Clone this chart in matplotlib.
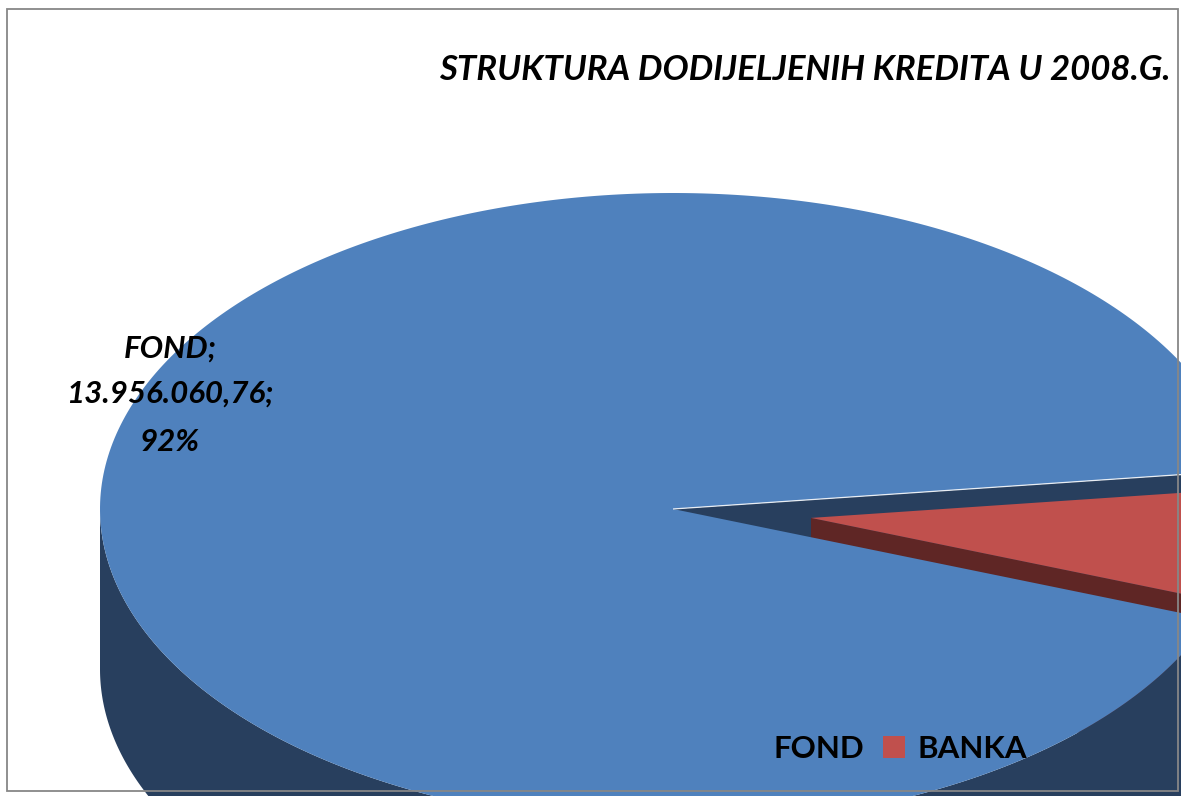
import numpy as np
import matplotlib
matplotlib.use('Agg')
import matplotlib.pyplot as plt
from matplotlib.patches import Polygon, Rectangle, Patch

# ---- data ----
categories = ['FOND', 'BANKA']
values = [13956060.76, 1147900.00]
top_colors = ['#4F81BD', '#C0504D']
side_colors = ['#283F5E', '#5F2625']
explode = [0.0, 0.2425]
title = 'STRUKTURA DODIJELJENIH KREDITA U 2008.G.'

FONT = 'Lato'
W, H = 1181, 796
fig = plt.figure(figsize=(W / 100, H / 100), dpi=100)
ax = fig.add_axes([0, 0, 1, 1])
ax.set_xlim(0, W)
ax.set_ylim(H, 0)
ax.axis('off')

# pie geometry (layout)
cx, cy, rx, ry, depth = 673, 509, 573, 316, 160
start = 7.0

vals = np.array(values, dtype=float)
fracs = vals / vals.sum()
edges = start + 360 * np.concatenate([[0], np.cumsum(fracs)])


def pt(theta, ox=0.0, oy=0.0):
    t = np.radians(theta)
    return (cx + ox + rx * np.cos(t), cy + oy - ry * np.sin(t))


def arc(a0, a1, ox, oy, dz=0.0, n=400):
    th = np.linspace(a0, a1, n)
    t = np.radians(th)
    return np.column_stack([cx + ox + rx * np.cos(t), cy + oy - ry * np.sin(t) + dz])


# z-order: FOND cut wall < BANKA walls/side < FOND outer side < BANKA top < FOND top
z_wall = [1.0, 1.5]
z_side = [2.0, 1.6]
z_top = [4.0, 3.0]

n = len(values)
for i in range(n):
    a0, a1 = edges[i], edges[i + 1]
    mid = np.radians((a0 + a1) / 2)
    ox = explode[i] * rx * np.cos(mid)
    oy = -explode[i] * ry * np.sin(mid)
    v = (cx + ox, cy + oy)
    # outer curved side, visible (front) part: sin < 0
    for k in range(-1, 3):
        lo = max(a0, 180 + 360 * k)
        hi = min(a1, 360 + 360 * k)
        if hi > lo:
            top = arc(lo, hi, ox, oy)
            bot = arc(hi, lo, ox, oy, depth)
            ax.add_patch(Polygon(np.vstack([top, bot]), closed=True,
                                 fc=side_colors[i], ec='none', zorder=z_side[i]))
    # radial walls facing the viewer
    for a, vis in ((a0, np.cos(np.radians(a0)) > 0), (a1, np.cos(np.radians(a1)) < 0)):
        if vis:
            p = pt(a, ox, oy)
            ax.add_patch(Polygon([v, p, (p[0], p[1] + depth), (v[0], v[1] + depth)],
                                 closed=True, fc=side_colors[i], ec='none',
                                 zorder=z_wall[i]))
    # top face
    ptsTop = np.vstack([[v], arc(a0, a1, ox, oy)])
    ax.add_patch(Polygon(ptsTop, closed=True, fc=top_colors[i], ec='none',
                         zorder=z_top[i]))
    if i == 0:
        p = pt(a0, ox, oy)
        ax.plot([v[0], p[0]], [v[1], p[1]], color='white', lw=0.9, alpha=0.85,
                zorder=4.5, solid_capstyle='butt')


def fmt_num(x):
    s = f'{x:,.2f}'
    return s.replace(',', 'X').replace('.', ',').replace('X', '.')


# data label for FOND
pct = int(round(fracs[0] * 100))
lines = [f'{categories[0]};', f'{fmt_num(values[0])};', f'{pct}%']
for txt, yb in zip(lines, [358, 403, 451]):
    ax.text(170, yb, txt, ha='center', va='baseline', fontsize=22.5,
            fontweight='bold', fontstyle='italic', family=FONT, zorder=6)

# title
ax.text(805, 80, title, ha='center', va='baseline', fontsize=25,
        fontweight='bold', fontstyle='italic', family=FONT, zorder=6)

# legend
handles = [Patch(fc=c, ec='none') for c in top_colors]
leg = ax.legend(handles, categories, loc='center', bbox_to_anchor=(883, 749),
                bbox_transform=ax.transData, ncol=2, frameon=False,
                prop={'family': FONT, 'weight': 'bold', 'size': 22.5},
                handlelength=0.7, handleheight=0.7, handletextpad=0.4,
                columnspacing=0.6, borderpad=0, borderaxespad=0)
leg.set_zorder(7)

# chart border
ax.add_patch(Rectangle((7, 8.5), 1170.5, 782, fill=False, ec='#878787', lw=1.3,
                       zorder=10))

fig.savefig('out.png', dpi=100)
